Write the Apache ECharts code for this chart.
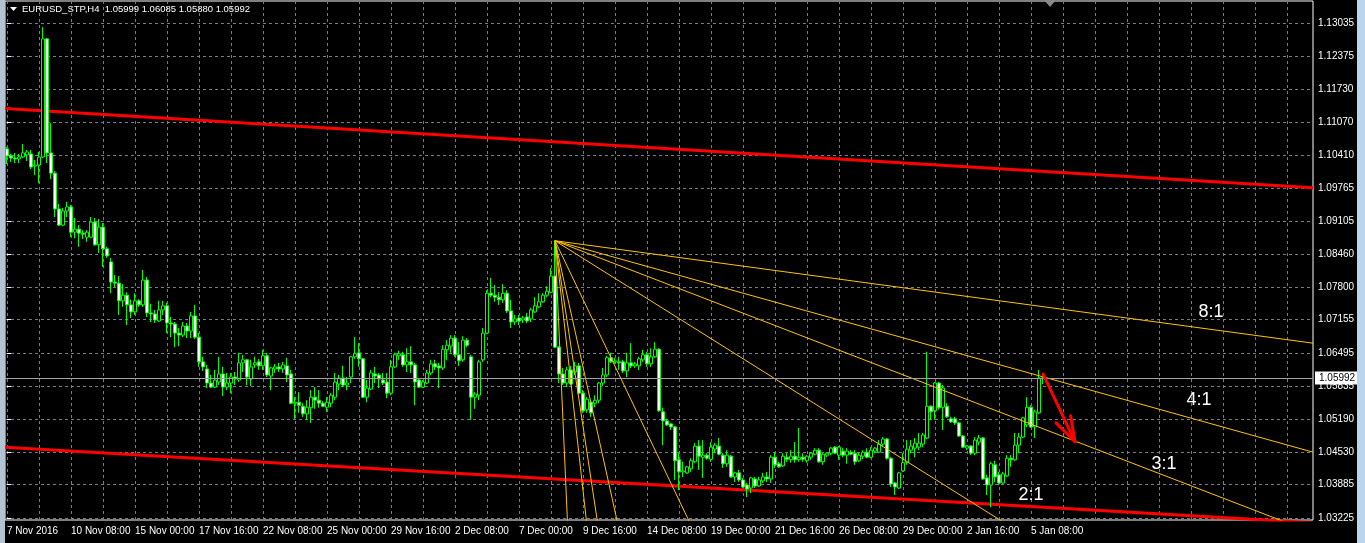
<!DOCTYPE html>
<html><head><meta charset="utf-8">
<script src="https://cdn.jsdelivr.net/npm/echarts@6/dist/echarts.min.js"></script>
<style>html,body{margin:0;padding:0;background:#000;overflow:hidden}#c{width:1365px;height:543px}</style>
</head><body><div id="c"></div>
<script>
// EURUSD_STP H4 candles (bar 0 = 7 Nov 16:00)
const openP = [
1.1054,1.1040,1.1036,1.1034,1.1038,1.1042,1.1044,1.1020,1.1022,1.1038,
1.1272,1.1046,1.1006,1.0935,1.0903,1.0931,1.0939,1.0889,1.0895,1.0887,
1.0879,1.0879,1.0909,1.0864,1.0899,1.0856,1.0830,1.0790,1.0788,1.0753,
1.0764,1.0745,1.0731,1.0753,1.0745,1.0794,1.0729,1.0727,1.0713,1.0735,
1.0743,1.0709,1.0707,1.0689,1.0685,1.0703,1.0693,1.0723,1.0681,1.0632,
1.0618,1.0590,1.0582,1.0592,1.0608,1.0582,1.0590,1.0602,1.0596,1.0630,
1.0636,1.0598,1.0626,1.0632,1.0624,1.0644,1.0604,1.0618,1.0622,1.0618,
1.0624,1.0608,1.0550,1.0552,1.0544,1.0529,1.0541,1.0562,1.0556,1.0550,
1.0542,1.0550,1.0562,1.0588,1.0600,1.0586,1.0602,1.0642,1.0650,1.0638,
1.0562,1.0578,1.0608,1.0606,1.0596,1.0592,1.0570,1.0622,1.0644,1.0646,
1.0626,1.0632,1.0626,1.0596,1.0582,1.0590,1.0610,1.0628,1.0624,1.0620,
1.0656,1.0663,1.0679,1.0646,1.0636,1.0675,1.0642,1.0562,1.0566,1.0636,
1.0689,1.0768,1.0764,1.0760,1.0755,1.0768,1.0733,1.0711,1.0719,1.0715,
1.0721,1.0717,1.0731,1.0741,1.0751,1.0764,1.0770,1.0802,1.0661,1.0608,
1.0590,1.0616,1.0612,1.0624,1.0570,1.0537,1.0552,1.0550,1.0556,1.0590,
1.0606,1.0640,1.0632,1.0632,1.0632,1.0614,1.0630,1.0624,1.0624,1.0636,
1.0646,1.0628,1.0642,1.0657,1.0533,1.0515,1.0509,1.0503,1.0438,1.0414,
1.0412,1.0420,1.0434,1.0465,1.0443,1.0447,1.0439,1.0459,1.0465,1.0447,
1.0430,1.0445,1.0404,1.0412,1.0398,1.0388,1.0382,1.0400,1.0386,1.0396,
1.0404,1.0400,1.0443,1.0430,1.0426,1.0443,1.0438,1.0445,1.0438,1.0443,
1.0436,1.0443,1.0449,1.0457,1.0434,1.0447,1.0451,1.0463,1.0447,1.0455,
1.0447,1.0453,1.0451,1.0436,1.0445,1.0453,1.0443,1.0455,1.0453,1.0469,
1.0479,1.0441,1.0392,1.0382,1.0416,1.0432,1.0457,1.0461,1.0463,1.0469,
1.0481,1.0544,1.0535,1.0590,1.0542,1.0544,1.0519,1.0519,1.0511,1.0485,
1.0461,1.0465,1.0451,1.0473,1.0481,1.0402,1.0388,1.0428,1.0408,1.0392,
1.0406,1.0441,1.0438,1.0467,1.0483,1.0507,1.0542,1.0503,1.0531,1.05999];
const closeP = [
1.1040,1.1036,1.1034,1.1038,1.1046,1.1048,1.1018,1.1022,1.1038,1.1272,
1.1046,1.1006,1.0935,1.0903,1.0931,1.0939,1.0889,1.0895,1.0887,1.0885,
1.0889,1.0909,1.0864,1.0899,1.0856,1.0842,1.0790,1.0788,1.0753,1.0764,
1.0745,1.0731,1.0753,1.0745,1.0794,1.0729,1.0727,1.0715,1.0735,1.0743,
1.0709,1.0707,1.0689,1.0685,1.0703,1.0693,1.0723,1.0681,1.0632,1.0622,
1.0590,1.0582,1.0596,1.0608,1.0582,1.0590,1.0602,1.0598,1.0630,1.0636,
1.0602,1.0622,1.0630,1.0624,1.0644,1.0606,1.0620,1.0622,1.0618,1.0626,
1.0606,1.0550,1.0552,1.0546,1.0529,1.0542,1.0562,1.0556,1.0550,1.0544,
1.0552,1.0566,1.0592,1.0600,1.0586,1.0590,1.0642,1.0648,1.0638,1.0562,
1.0580,1.0610,1.0604,1.0598,1.0590,1.0570,1.0622,1.0646,1.0648,1.0626,
1.0632,1.0626,1.0592,1.0582,1.0592,1.0610,1.0628,1.0622,1.0620,1.0657,
1.0665,1.0679,1.0646,1.0634,1.0675,1.0665,1.0562,1.0568,1.0632,1.0689,
1.0768,1.0764,1.0760,1.0755,1.0768,1.0733,1.0711,1.0717,1.0713,1.0719,
1.0713,1.0735,1.0743,1.0751,1.0764,1.0772,1.0802,1.0661,1.0608,1.0590,
1.0616,1.0588,1.0624,1.0570,1.0535,1.0558,1.0531,1.0556,1.0590,1.0606,
1.0640,1.0632,1.0634,1.0630,1.0614,1.0630,1.0624,1.0628,1.0638,1.0646,
1.0628,1.0642,1.0657,1.0535,1.0515,1.0507,1.0503,1.0436,1.0414,1.0416,
1.0424,1.0436,1.0465,1.0445,1.0447,1.0441,1.0463,1.0467,1.0449,1.0430,
1.0447,1.0404,1.0412,1.0398,1.0384,1.0380,1.0402,1.0386,1.0398,1.0404,
1.0400,1.0443,1.0428,1.0424,1.0445,1.0439,1.0445,1.0438,1.0443,1.0439,
1.0445,1.0451,1.0457,1.0434,1.0449,1.0451,1.0461,1.0451,1.0463,1.0447,
1.0455,1.0449,1.0434,1.0447,1.0453,1.0443,1.0457,1.0461,1.0469,1.0479,
1.0441,1.0390,1.0384,1.0412,1.0432,1.0459,1.0465,1.0471,1.0471,1.0487,
1.0544,1.0533,1.0590,1.0541,1.0580,1.0523,1.0513,1.0511,1.0485,1.0463,
1.0465,1.0451,1.0477,1.0481,1.0400,1.0388,1.0430,1.0404,1.0392,1.0410,
1.0441,1.0438,1.0467,1.0483,1.0521,1.0542,1.0503,1.0533,1.0600,1.05992];
const lowP = [
1.1024,1.1028,1.1026,1.1026,1.1036,1.1030,1.1014,1.1002,1.0986,1.1036,
1.1026,1.0994,1.0919,1.0901,1.0901,1.0919,1.0879,1.0877,1.0860,1.0875,
1.0870,1.0877,1.0862,1.0848,1.0820,1.0838,1.0768,1.0780,1.0725,1.0741,
1.0705,1.0719,1.0725,1.0741,1.0741,1.0721,1.0711,1.0709,1.0711,1.0725,
1.0689,1.0681,1.0661,1.0663,1.0681,1.0679,1.0679,1.0677,1.0622,1.0614,
1.0580,1.0580,1.0580,1.0586,1.0564,1.0576,1.0570,1.0586,1.0592,1.0612,
1.0586,1.0584,1.0620,1.0616,1.0616,1.0602,1.0576,1.0610,1.0612,1.0610,
1.0592,1.0548,1.0519,1.0531,1.0523,1.0517,1.0511,1.0539,1.0541,1.0542,
1.0533,1.0542,1.0556,1.0576,1.0582,1.0576,1.0590,1.0638,1.0622,1.0560,
1.0552,1.0576,1.0590,1.0580,1.0586,1.0560,1.0566,1.0620,1.0636,1.0622,
1.0612,1.0610,1.0546,1.0580,1.0580,1.0588,1.0606,1.0616,1.0580,1.0616,
1.0636,1.0650,1.0642,1.0624,1.0632,1.0661,1.0517,1.0539,1.0556,1.0632,
1.0687,1.0760,1.0751,1.0745,1.0749,1.0729,1.0699,1.0705,1.0705,1.0709,
1.0709,1.0711,1.0729,1.0739,1.0749,1.0760,1.0768,1.0659,1.0590,1.0586,
1.0582,1.0586,1.0606,1.0568,1.0531,1.0531,1.0523,1.0542,1.0550,1.0584,
1.0602,1.0630,1.0628,1.0616,1.0610,1.0602,1.0620,1.0620,1.0616,1.0632,
1.0622,1.0622,1.0640,1.0533,1.0467,1.0505,1.0497,1.0398,1.0378,1.0404,
1.0410,1.0414,1.0432,1.0418,1.0402,1.0438,1.0434,1.0451,1.0447,1.0422,
1.0424,1.0402,1.0394,1.0394,1.0382,1.0364,1.0372,1.0382,1.0384,1.0392,
1.0394,1.0392,1.0422,1.0422,1.0424,1.0434,1.0432,1.0432,1.0434,1.0434,
1.0432,1.0438,1.0447,1.0432,1.0428,1.0443,1.0447,1.0449,1.0438,1.0443,
1.0430,1.0447,1.0428,1.0434,1.0439,1.0441,1.0441,1.0451,1.0451,1.0465,
1.0438,1.0384,1.0368,1.0380,1.0414,1.0428,1.0451,1.0443,1.0457,1.0463,
1.0479,1.0517,1.0517,1.0537,1.0497,1.0521,1.0511,1.0507,1.0483,1.0461,
1.0457,1.0447,1.0447,1.0467,1.0398,1.0368,1.0344,1.0394,1.0388,1.0390,
1.0404,1.0424,1.0436,1.0451,1.0481,1.0503,1.0501,1.0481,1.0529,1.05880];
const highP = [
1.1058,1.1044,1.1046,1.1044,1.1064,1.1052,1.1052,1.1032,1.1048,1.1295,
1.1274,1.1105,1.1010,1.0945,1.0937,1.0949,1.0943,1.0917,1.0903,1.0893,
1.0893,1.0919,1.0917,1.0915,1.0907,1.0860,1.0838,1.0804,1.0802,1.0786,
1.0770,1.0755,1.0768,1.0756,1.0814,1.0800,1.0747,1.0735,1.0753,1.0753,
1.0749,1.0721,1.0711,1.0699,1.0711,1.0709,1.0731,1.0745,1.0689,1.0642,
1.0626,1.0606,1.0616,1.0642,1.0622,1.0610,1.0610,1.0612,1.0650,1.0646,
1.0638,1.0636,1.0642,1.0638,1.0656,1.0650,1.0622,1.0628,1.0630,1.0632,
1.0640,1.0616,1.0562,1.0572,1.0550,1.0556,1.0576,1.0582,1.0576,1.0554,
1.0562,1.0570,1.0610,1.0606,1.0624,1.0602,1.0644,1.0681,1.0669,1.0640,
1.0596,1.0616,1.0622,1.0610,1.0610,1.0610,1.0636,1.0650,1.0654,1.0652,
1.0659,1.0663,1.0630,1.0600,1.0596,1.0616,1.0636,1.0636,1.0630,1.0665,
1.0675,1.0685,1.0685,1.0671,1.0683,1.0679,1.0646,1.0572,1.0636,1.0699,
1.0774,1.0798,1.0784,1.0770,1.0786,1.0774,1.0755,1.0725,1.0725,1.0723,
1.0729,1.0739,1.0760,1.0768,1.0768,1.0782,1.0818,1.0872,1.0663,1.0620,
1.0622,1.0624,1.0632,1.0630,1.0576,1.0562,1.0556,1.0566,1.0592,1.0620,
1.0644,1.0650,1.0640,1.0642,1.0636,1.0650,1.0669,1.0632,1.0642,1.0656,
1.0652,1.0659,1.0671,1.0659,1.0541,1.0519,1.0511,1.0505,1.0451,1.0434,
1.0426,1.0441,1.0471,1.0477,1.0477,1.0451,1.0473,1.0471,1.0481,1.0451,
1.0457,1.0447,1.0414,1.0418,1.0402,1.0392,1.0404,1.0404,1.0404,1.0412,
1.0414,1.0447,1.0453,1.0434,1.0451,1.0451,1.0457,1.0473,1.0501,1.0451,
1.0447,1.0453,1.0461,1.0461,1.0451,1.0453,1.0463,1.0465,1.0465,1.0461,
1.0461,1.0457,1.0457,1.0453,1.0457,1.0461,1.0463,1.0463,1.0477,1.0483,
1.0481,1.0443,1.0394,1.0414,1.0451,1.0477,1.0477,1.0481,1.0491,1.0491,
1.0652,1.0546,1.0592,1.0592,1.0586,1.0550,1.0523,1.0523,1.0513,1.0487,
1.0467,1.0467,1.0483,1.0487,1.0483,1.0408,1.0434,1.0436,1.0414,1.0414,
1.0447,1.0447,1.0491,1.0491,1.0523,1.0562,1.0546,1.0537,1.0616,1.06085];

const xTickLabels = ['7 Nov 2016','10 Nov 08:00','15 Nov 00:00','17 Nov 16:00','22 Nov 08:00','25 Nov 00:00',
  '29 Nov 16:00','2 Dec 08:00','7 Dec 00:00','9 Dec 16:00','14 Dec 08:00','19 Dec 00:00','21 Dec 16:00',
  '26 Dec 08:00','29 Dec 00:00','2 Jan 16:00','5 Jan 08:00'];
const yTickValues = [1.03225,1.03885,1.04530,1.05190,1.05835,1.06495,1.07155,1.07800,
  1.08460,1.09105,1.09765,1.10410,1.11070,1.11730,1.12375,1.13035];
const lastPrice = 1.05992;
const titleText = 'EURUSD_STP,H4  1.05999 1.06085 1.05880 1.05992';
// Gann fan: origin at bar 137 high, end points (bar, price)
const fanOrigin = [137, 1.0872];
const fanEnds = [[140.2,1.0300],[145.1,1.0300],[147.9,1.0300],[153.0,1.0300],[171.5,1.0300],
  [252,1.0300],[324.3,1.0300],[326.5,1.0453],[326.5,1.0669]];
const fanLabels = [['8:1',301,1.0731],['4:1',298,1.0556],['3:1',289.25,1.0430],['2:1',256,1.0368]];
const trendUpper = [[-0.5,1.1134],[326.5,1.0977]];
const trendLower = [[-0.5,1.0463],[326.5,1.0313]];
const arrowShaft = [[259,1.0608],[267,1.0474]];
const arrowBarbs = [[262.25,1.0511],[265.9,1.0525]];
const totalSlots = 327;

// bar time categories (H4, weekdays)
const MON = ['Jan','Feb','Mar','Apr','May','Jun','Jul','Aug','Sep','Oct','Nov','Dec'];
const categories = [];
let t = new Date(2016, 10, 7, 16, 0);
while (categories.length < openP.length) {
  const d = t.getDay();
  if (d !== 0 && d !== 6) categories.push(t.getDate()+' '+MON[t.getMonth()]+' '+String(t.getHours()).padStart(2,'0')+':00');
  t = new Date(t.getFullYear(), t.getMonth(), t.getDate(), t.getHours() + 4, 0);
}
for (let i = categories.length; i < totalSlots; i++) categories.push('f' + i);

const candles = openP.map((o, i) => [o, closeP[i], lowP[i], highP[i]]);
const FONT = 'Liberation Sans';
const gridDash = {color: '#6f7f8f', type: [3, 3], width: 1};

const chart = echarts.init(document.getElementById('c'), null, {renderer: 'canvas'});
chart.setOption({
  animation: false,
  backgroundColor: '#000',
  grid: {left: 5, top: 1, width: 1308, height: 519, show: true, borderColor: '#ffffff', borderWidth: 1},
  xAxis: [{
    type: 'category', data: categories, boundaryGap: true,
    axisLine: {show: false}, axisTick: {show: false},
    axisLabel: {interval: 15, align: 'left', color: '#fff', fontSize: 10, fontFamily: FONT, margin: 6,
      hideOverlap: false,
      formatter: (v, i) => (i % 16 === 0 && xTickLabels[i / 16]) || ''},
    splitLine: {show: true, interval: 7, alignWithLabel: true, lineStyle: gridDash}
  }, {
    type: 'value', min: -0.5, max: totalSlots - 0.5, show: false
  }],
  yAxis: {
    type: 'value', position: 'right', min: 1.03186, max: 1.13471,
    axisLine: {show: false},
    axisTick: {show: true, customValues: yTickValues, length: 4, lineStyle: {color: '#ffffff'}},
    axisLabel: {customValues: yTickValues, color: '#fff', fontSize: 10, fontFamily: FONT, margin: 5,
      formatter: v => v.toFixed(5)},
    splitLine: {show: true, lineStyle: gridDash}
  },
  graphic: [
    {type: 'rect', shape: {x: 0, y: 0, width: 5, height: 543}, style: {fill: '#b4c3d3'}, z: 100},
    {type: 'rect', shape: {x: 1357, y: 0, width: 8, height: 543}, style: {fill: '#bcd5ee'}, z: 100},
    {type: 'polygon', shape: {points: [[10, 7], [17, 7], [13.5, 11]]}, style: {fill: '#fff'}, z: 100},
    {type: 'polygon', shape: {points: [[1044, 0], [1056, 0], [1050, 7]]}, style: {fill: '#8a8a8a'}, z: 100},
    {type: 'text', left: 22, top: 4, style: {text: titleText, fill: '#fff', font: '9.5px "' + FONT + '"'}, z: 100}
  ],
  series: [
    {
      type: 'line', xAxisIndex: 1, data: trendUpper, showSymbol: false, silent: true, clip: true,
      lineStyle: {color: '#ff0000', width: 3}, z: 2
    },
    {
      type: 'line', xAxisIndex: 1, data: trendLower, showSymbol: false, silent: true, clip: true,
      lineStyle: {color: '#ff0000', width: 3}, z: 2
    },
    {
      type: 'candlestick', xAxisIndex: 0, data: candles, barWidth: 3, silent: true, z: 3,
      itemStyle: {color: '#000', color0: '#fff', borderColor: '#00ff00', borderColor0: '#00ff00',
        borderColorDoji: '#00ff00', borderWidth: 1},
      markLine: {
        silent: true, symbol: ['none', 'none'], animation: false,
        lineStyle: {color: '#a0a0a0', type: 'solid', width: 1},
        label: {position: 'end', distance: 2, formatter: () => lastPrice.toFixed(5),
          backgroundColor: '#fff', color: '#000', fontSize: 10, fontFamily: FONT, padding: [2, 4, 1, 4]},
        data: [{yAxis: lastPrice}]
      }
    },
    {
      type: 'lines', coordinateSystem: 'cartesian2d', xAxisIndex: 1, silent: true, clip: true, z: 4,
      lineStyle: {color: '#ffc400', width: 1, opacity: 1},
      data: fanEnds.map(e => ({coords: [fanOrigin, e]}))
    },
    {
      type: 'lines', coordinateSystem: 'cartesian2d', xAxisIndex: 1, silent: true, z: 5,
      lineStyle: {color: '#ff0000', width: 3, opacity: 1, cap: 'round'},
      data: [{coords: arrowShaft}].concat(arrowBarbs.map(b => ({coords: [b, arrowShaft[1]]})))
    },
    {
      type: 'scatter', xAxisIndex: 1, silent: true, symbolSize: 2, z: 6,
      itemStyle: {color: 'rgba(0,0,0,0)'},
      data: fanLabels.map(l => ({name: l[0], value: [l[1], l[2]]})),
      label: {show: true, position: 'inside', formatter: '{b}', color: '#ffffff', opacity: 1,
        fontSize: 18, fontFamily: FONT}
    }
  ]
});
</script>
</body></html>
